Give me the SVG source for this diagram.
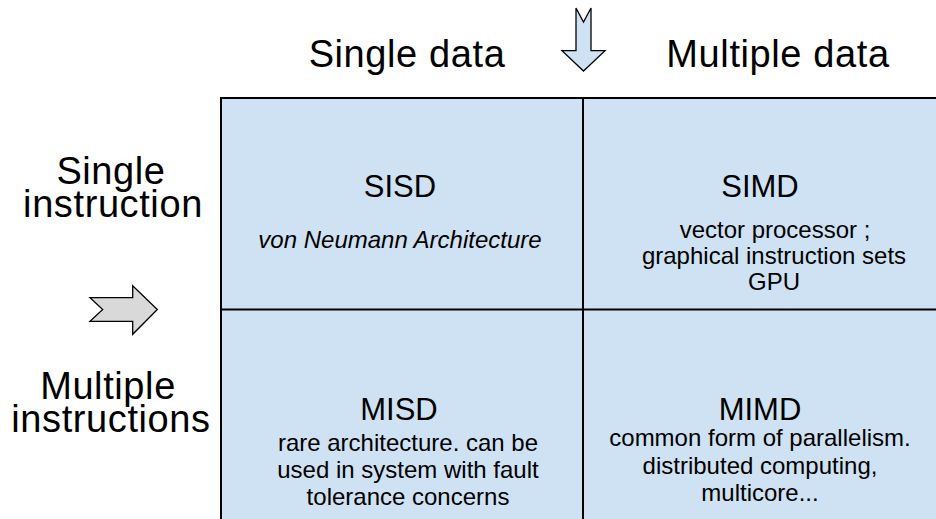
<svg xmlns="http://www.w3.org/2000/svg" width="936" height="519" viewBox="0 0 936 519">
<style>
text{font-family:"Liberation Sans",Arial,sans-serif;fill:#000;text-anchor:middle}
.hdr{font-size:38px;letter-spacing:0.6px}
.ttl{font-size:31px}
.dsc{font-size:24px}
.cell{fill:#cfe2f3;stroke:none}
.grid{stroke:#000;stroke-width:2;fill:none}
</style>
<rect width="936" height="519" fill="#fff"/>
<g id="labels">
<text class="hdr" x="407" y="67">Single data</text>
<text class="hdr" x="778" y="67">Multiple data</text>
<text class="hdr" x="111" y="184">Single</text>
<text class="hdr" x="113" y="217">instruction</text>
<text class="hdr" x="108" y="399">Multiple</text>
<text class="hdr" x="111" y="432">instructions</text>
</g>
<g id="grid">
<rect class="cell" x="221" y="98" width="730" height="440"/>
<path class="grid" d="M221,540 V98 H940 M583,98 V540 M221,309.5 H940"/>
</g>
<g id="sisd">
<text class="ttl" x="400" y="197">SISD</text>
<text class="dsc" x="400" y="248" font-style="italic">von Neumann Architecture</text>
</g>
<g id="simd">
<text class="ttl" x="760" y="197">SIMD</text>
<text class="dsc" x="775" y="238">vector processor ;</text>
<text class="dsc" x="774" y="264">graphical instruction sets</text>
<text class="dsc" x="774" y="290">GPU</text>
</g>
<g id="misd">
<text class="ttl" x="399" y="420">MISD</text>
<text class="dsc" x="408" y="451">rare architecture. can be</text>
<text class="dsc" x="408" y="478">used in system with fault</text>
<text class="dsc" x="408" y="505">tolerance concerns</text>
</g>
<g id="mimd">
<text class="ttl" x="760" y="420">MIMD</text>
<text class="dsc" x="760" y="446">common form of parallelism.</text>
<text class="dsc" x="760" y="474">distributed computing,</text>
<text class="dsc" x="760" y="501">multicore...</text>
</g>
<g id="arrows" stroke="#000" stroke-width="1.3" stroke-linejoin="miter">
<path d="M576,8 L583.5,22 L591,8 V50.7 H605 L583.5,71 L562,50.7 H576 Z" fill="#cfe2f3"/>
<path d="M90,297.7 H132.7 V285.7 L157.3,309.5 L132.7,334.3 V321.3 H90 L102.7,309.5 Z" fill="#d9d9d9"/>
</g>
</svg>
